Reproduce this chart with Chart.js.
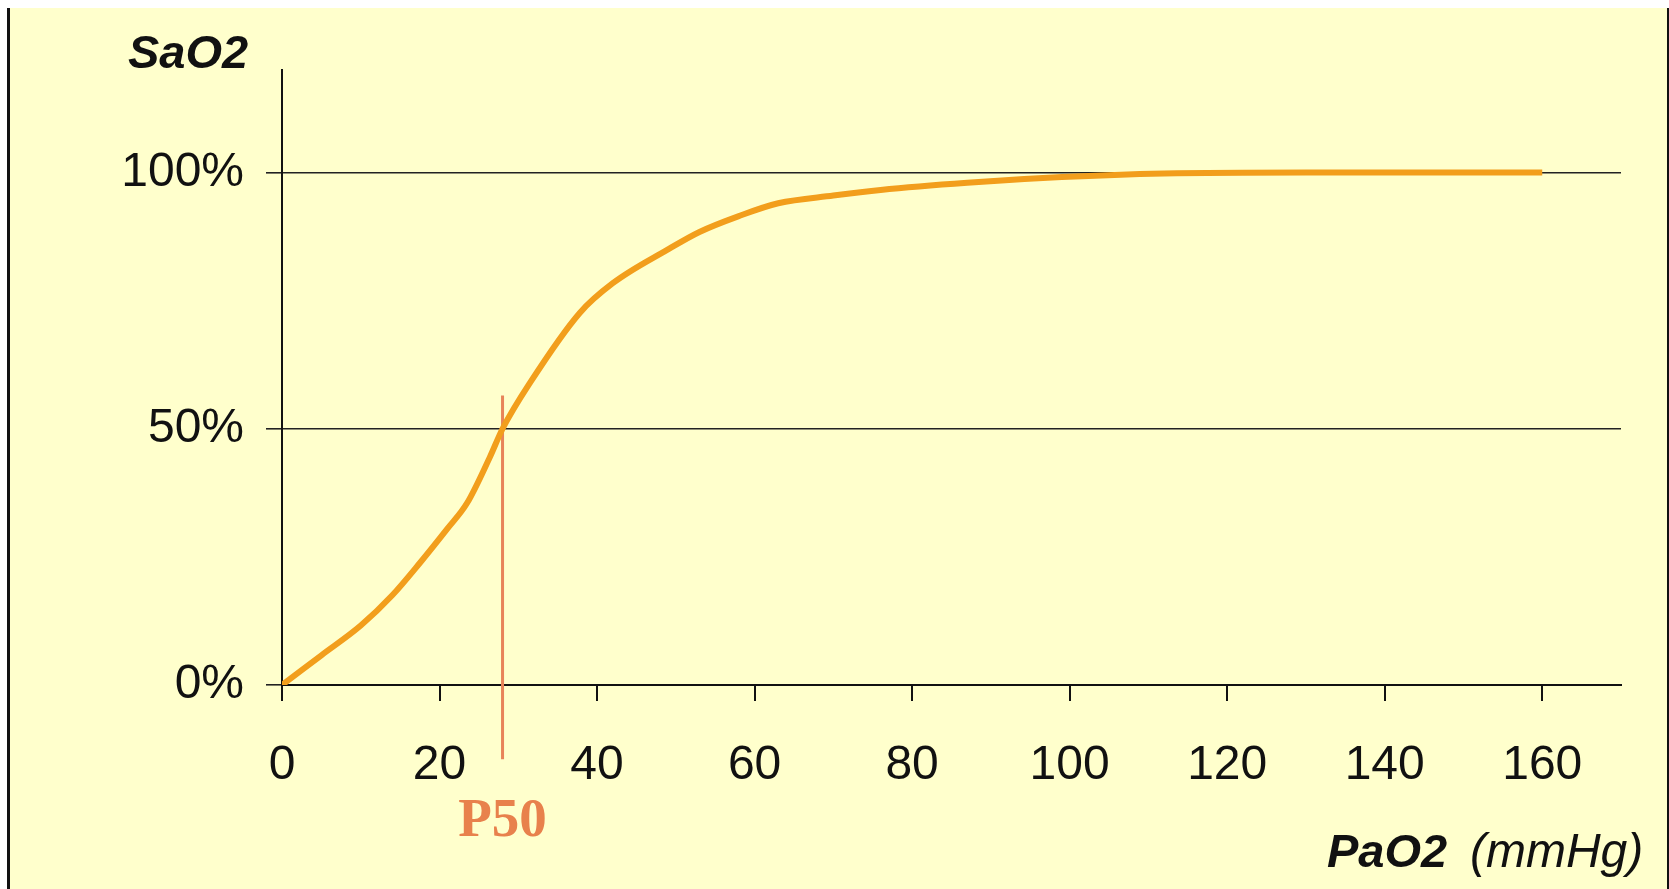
<!DOCTYPE html>
<html>
<head>
<meta charset="utf-8">
<title>Oxyhemoglobin dissociation curve</title>
<script src="https://cdn.jsdelivr.net/npm/chart.js@4.4.1/dist/chart.umd.min.js"></script>
<style>
  html, body { margin: 0; padding: 0; background: #ffffff; }
  #frame {
    position: absolute; left: 7px; top: 8px; width: 1657px; height: 881px;
    background: #ffffcc; border-left: 3px solid #111; border-right: 2px solid #111;
  }
  #chart { position: absolute; left: 0; top: 0; }
</style>
</head>
<body>
<div id="frame"></div>
<canvas id="chart" width="1669" height="889"></canvas>
<script>
// Oxygen partial pressure (mmHg) and haemoglobin saturation (%)
const paO2 = [0, 5, 10, 14, 17.5, 21, 23.5, 26.4, 28, 31.5, 37.8, 42, 48.9, 53, 58, 63, 70, 76, 87, 99, 112, 130, 160];
const saO2 = [0, 5.8, 11.6, 17.5, 23.8, 30.5, 35.5, 44.5, 50, 59, 72.6, 78.4, 84.9, 88.4, 91.5, 94, 95.5, 96.6, 98, 99.1, 99.8, 100, 100];

// P50 marker: pressure at 50 % saturation, and the vertical extent of its line
const p50 = 28;
const p50Span = [56.5, -14.5];

// Axis ticks
const xTicks = [0, 20, 40, 60, 80, 100, 120, 140, 160];
const yTicks = [0, 50, 100];

const curvePoints = paO2.map((p, i) => ({ x: p, y: saO2[i] }));
const p50Points = p50Span.map(s => ({ x: p50, y: s }));

const tickFont = { family: '"Liberation Sans", Arial, sans-serif', size: 48 };

const annotations = {
  id: 'annotations',
  afterDraw(chart) {
    const { ctx, scales } = chart;
    ctx.save();
    ctx.fillStyle = '#111';
    ctx.textBaseline = 'alphabetic';
    ctx.font = 'italic bold 47px "Liberation Sans", Arial, sans-serif';
    ctx.textAlign = 'center';
    ctx.fillText('SaO2', 188, 68);
    ctx.textAlign = 'left';
    ctx.fillText('PaO2', 1327, 867);
    ctx.font = 'italic 48px "Liberation Sans", Arial, sans-serif';
    ctx.fillText('(mmHg)', 1470, 867);
    ctx.fillStyle = '#e8814c';
    ctx.font = 'bold 55px "Liberation Serif", "Times New Roman", serif';
    ctx.textAlign = 'center';
    ctx.fillText('P50', scales.x.getPixelForValue(p50), 836);
    ctx.restore();
  }
};

new Chart(document.getElementById('chart'), {
  type: 'line',
  data: {
    datasets: [
      {
        data: curvePoints,
        borderColor: '#f29e1c',
        borderWidth: 6,
        pointRadius: 0,
        cubicInterpolationMode: 'monotone',
        fill: false
      },
      {
        data: p50Points,
        borderColor: '#e8845a',
        borderWidth: 3,
        pointRadius: 0,
        clip: false,
        fill: false
      }
    ]
  },
  options: {
    responsive: false,
    animation: false,
    layout: { padding: { left: 0, top: 70, right: 48, bottom: 0 } },
    plugins: { legend: { display: false }, tooltip: { enabled: false } },
    scales: {
      x: {
        type: 'linear',
        min: 0,
        max: 170,
        afterBuildTicks: s => { s.ticks = xTicks.map(v => ({ value: v })); },
        afterFit: s => { s.height = 204; },
        border: { color: '#111', width: 2 },
        grid: { drawOnChartArea: false, drawTicks: true, tickLength: 16, color: '#111', lineWidth: 2 },
        ticks: { font: tickFont, color: '#111', padding: 36, maxRotation: 0, autoSkip: false }
      },
      y: {
        type: 'linear',
        min: 0,
        max: 120,
        afterBuildTicks: s => { s.ticks = yTicks.map(v => ({ value: v })); },
        afterFit: s => { s.width = 282; },
        border: { color: '#111', width: 2 },
        grid: { drawOnChartArea: true, drawTicks: true, tickLength: 16, color: '#222', lineWidth: 1.6 },
        ticks: { font: tickFont, color: '#111', padding: 22, callback: v => v + '%' }
      }
    }
  },
  plugins: [annotations]
});
</script>
</body>
</html>
